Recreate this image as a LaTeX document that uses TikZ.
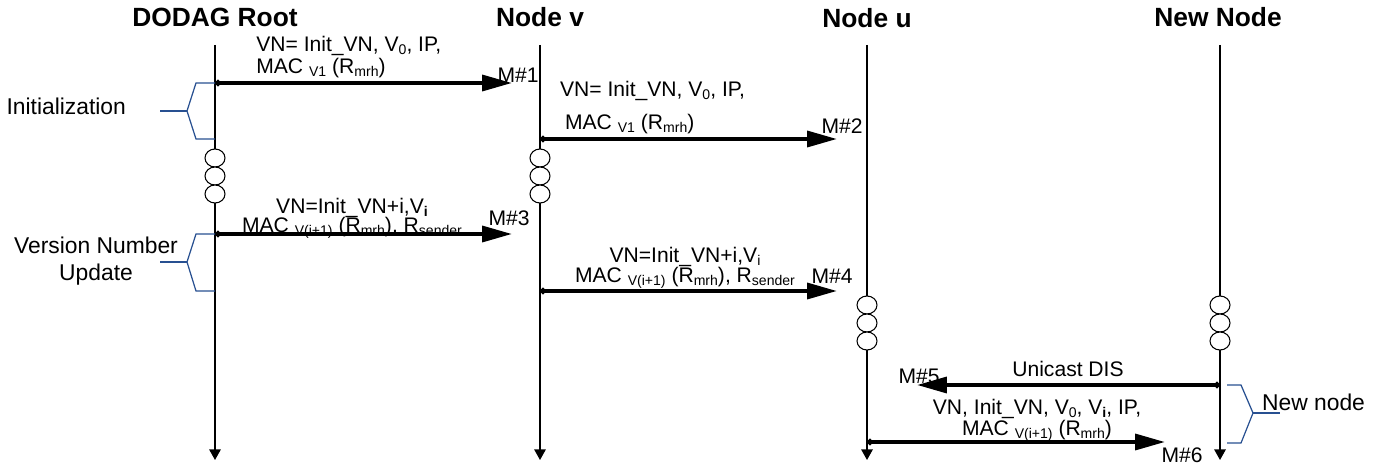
\documentclass[tikz,border=0pt]{standalone}
\usepackage{fontspec}
\setmainfont{Liberation Sans}
\usetikzlibrary{arrows.meta}

\definecolor{bracketblue}{RGB}{40,80,145}
\lineskiplimit=-8pt
\newcommand\lowsub[1]{\raisebox{-0.14em}{\fontsize{8}{9}\selectfont #1}}

\begin{document}
\begin{tikzpicture}[x=0.02cm, y=-0.02cm,
    head/.style={font=\fontsize{15}{18}\selectfont\bfseries},
    lbl/.style={font=\fontsize{12}{14}\selectfont, inner sep=1pt},
    twoline/.style={font={\fontsize{12}{#1}\selectfont}, inner sep=0pt, align=center},
    side/.style={font=\fontsize{13}{15}\selectfont, align=center, inner sep=1pt},
    life/.style={-{Triangle[length=6pt, width=6.5pt]}, line width=0.8pt},
    msg/.style={{Circle[length=3.4pt, width=3.4pt]}-{Triangle[length=17pt, width=9pt]}, line width=2.2pt},
    brace/.style={bracketblue, line width=0.7pt},
    knot/.style={draw, fill=white, line width=0.6pt}
  ]
    \useasboundingbox (0,0) rectangle (1385,466);
    % lifelines
    \node[head] (root) at (215,17) {DODAG Root};
    \node[head] (nodev) at (540,17) {Node v};
    \node[head] (nodeu) at (867,18) {Node u};
    \node[head] (newnode) at (1218,17) {New Node};
    \coordinate (rootTop) at (215,45);  \coordinate (rootEnd) at (215,460);
    \coordinate (vTop) at (540,45);     \coordinate (vEnd) at (540,460);
    \coordinate (uTop) at (867,45);     \coordinate (uEnd) at (867,460);
    \coordinate (nTop) at (1220,45);    \coordinate (nEnd) at (1220,460);
    \draw[life] (rootTop) -- (rootEnd);
    \draw[life] (vTop) -- (vEnd);
    \draw[life] (uTop) -- (uEnd);
    \draw[life] (nTop) -- (nEnd);
    \foreach \yy in {158,176,194} {
      \draw[knot] (215,\yy) ellipse [x radius=10, y radius=9];
      \draw[knot] (540,\yy) ellipse [x radius=10, y radius=9];
    }
    \foreach \yy in {305,323,341} {
      \draw[knot] (867,\yy) ellipse [x radius=10, y radius=9];
      \draw[knot] (1220,\yy) ellipse [x radius=10, y radius=9];
    }
    % message rows
    \coordinate (r1) at (215,83);   \coordinate (v1) at (512,83);
    \coordinate (v2) at (540,139);  \coordinate (u2) at (837,139);
    \coordinate (r3) at (215,234);  \coordinate (v3) at (512,234);
    \coordinate (v4) at (540,291);  \coordinate (u4) at (837,291);
    \coordinate (n5) at (1220,385); \coordinate (u5) at (917,385);
    \coordinate (u6) at (867,442);  \coordinate (n6) at (1165,442);
    \draw[msg] (r1) -- (v1);
    \draw[msg] (v2) -- (u2);
    \draw[msg] (r3) -- (v3);
    \draw[msg] (v4) -- (u4);
    \draw[msg] (n5) -- (u5);
    \draw[msg] (u6) -- (n6);
    \node[twoline=12.5pt, align=left, anchor=west] (m1a) at (256,57)
      {VN= Init\_VN, V\lowsub{0}, IP,\\MAC \lowsub{V1} (R\lowsub{mrh})};
    \node[lbl] (m1) at (518,75) {M\#1};
    \node[lbl, anchor=west] (m2a) at (558,91) {VN= Init\_VN, V\lowsub{0}, IP,};
    \node[lbl, anchor=west] (m2b) at (563,124) {MAC \lowsub{V1} (R\lowsub{mrh})};
    \node[lbl] (m2) at (842,126) {M\#2};
    \node[twoline=10.8pt] (m3a) at (352,218)
      {VN=Init\_VN+i,V\lowsub{\textbf{i}}\\MAC \lowsub{V(i+1)} (R\lowsub{mrh}), R\lowsub{sender}};
    \node[lbl] (m3) at (509,218) {M\#3};
    \node[twoline=11.3pt] (m4a) at (685,268)
      {VN=Init\_VN+i,V\lowsub{i}\\MAC \lowsub{V(i+1)} (R\lowsub{mrh}), R\lowsub{sender}};
    \node[lbl] (m4) at (832,276) {M\#4};
    \node[lbl] (m5a) at (1068,369) {Unicast DIS};
    \node[lbl] (m5) at (919,376) {M\#5};
    \node[twoline=12pt] (m6a) at (1037,420)
      {VN, Init\_VN, V\lowsub{0}, V\lowsub{\textbf{i}}, IP,\\MAC \lowsub{V(i+1)} (R\lowsub{mrh})};
    \node[lbl] (m6) at (1182,455) {M\#6};
    % phase brackets
    \draw[brace] (r1) -- (196,83) -- (187,111) -- (196,139) -- (215,139);
    \draw[brace] (187,111) -- (160,111);
    \node[side, anchor=east] (init) at (128,106) {Initialization};
    \draw[brace] (r3) -- (196,234) -- (187,262) -- (196,291) -- (215,291);
    \draw[brace] (187,262) -- (160,262);
    \node[side] (update) at (96,261) {Version Number\\Update};
    \draw[brace] (1227,385) -- (1241,385) -- (1253,413) -- (1241,443) -- (1227,443);
    \draw[brace] (1253,413) -- (1280,413);
    \node[side, anchor=west] (newlbl) at (1260,402) {New node};
  \end{tikzpicture}
\end{document}
